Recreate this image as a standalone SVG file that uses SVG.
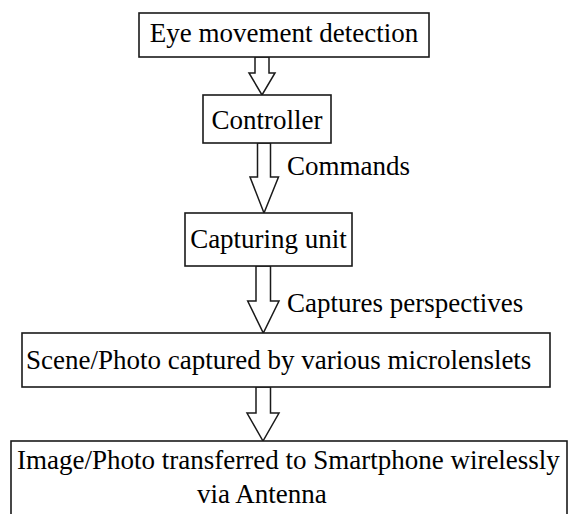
<svg xmlns="http://www.w3.org/2000/svg" width="568" height="514" viewBox="0 0 568 514">
<style>
.box{fill:#fff;stroke:#1a1a1a;stroke-width:1.6}
.arr{fill:#fff;stroke:#1a1a1a;stroke-width:1.5;stroke-linejoin:miter}
text{font-family:"Liberation Serif","Times New Roman",serif;font-size:27px;fill:#000}
</style>
<rect width="568" height="514" fill="#fff"/>
<g id="connectors">
<polygon class="arr" points="255,57 269,57 269,73 275,73 262,95 249,73 255,73"/>
<polygon class="arr" points="257.5,143 270.5,143 270.5,177 278.5,177 264,213 250,177 257.5,177"/>
<polygon class="arr" points="256,266 270.5,266 270.5,301 279,301 263.3,333 247.7,301 256,301"/>
<polygon class="arr" points="256,387 270.5,387 270.5,413 279,413 263,441 247,413 256,413"/>
<text x="287" y="175">Commands</text>
<text x="287" y="312">Captures perspectives</text>
</g>
<g id="n1">
<rect class="box" x="139" y="13" width="290" height="44"/>
<text x="284" y="42" text-anchor="middle">Eye movement detection</text>
</g>
<g id="n2">
<rect class="box" x="203" y="95" width="128" height="48"/>
<text x="267" y="129" text-anchor="middle">Controller</text>
</g>
<g id="n3">
<rect class="box" x="185" y="213" width="167" height="53"/>
<text x="268.5" y="248" text-anchor="middle">Capturing unit</text>
</g>
<g id="n4">
<rect class="box" x="22" y="333" width="528" height="54"/>
<text x="26" y="369">Scene/Photo captured by various microlenslets</text>
</g>
<g id="n5">
<rect class="box" x="11" y="441" width="556" height="80"/>
<text x="17" y="469">Image/Photo transferred to Smartphone wirelessly</text>
<text x="197" y="503">via Antenna</text>
</g>
</svg>
